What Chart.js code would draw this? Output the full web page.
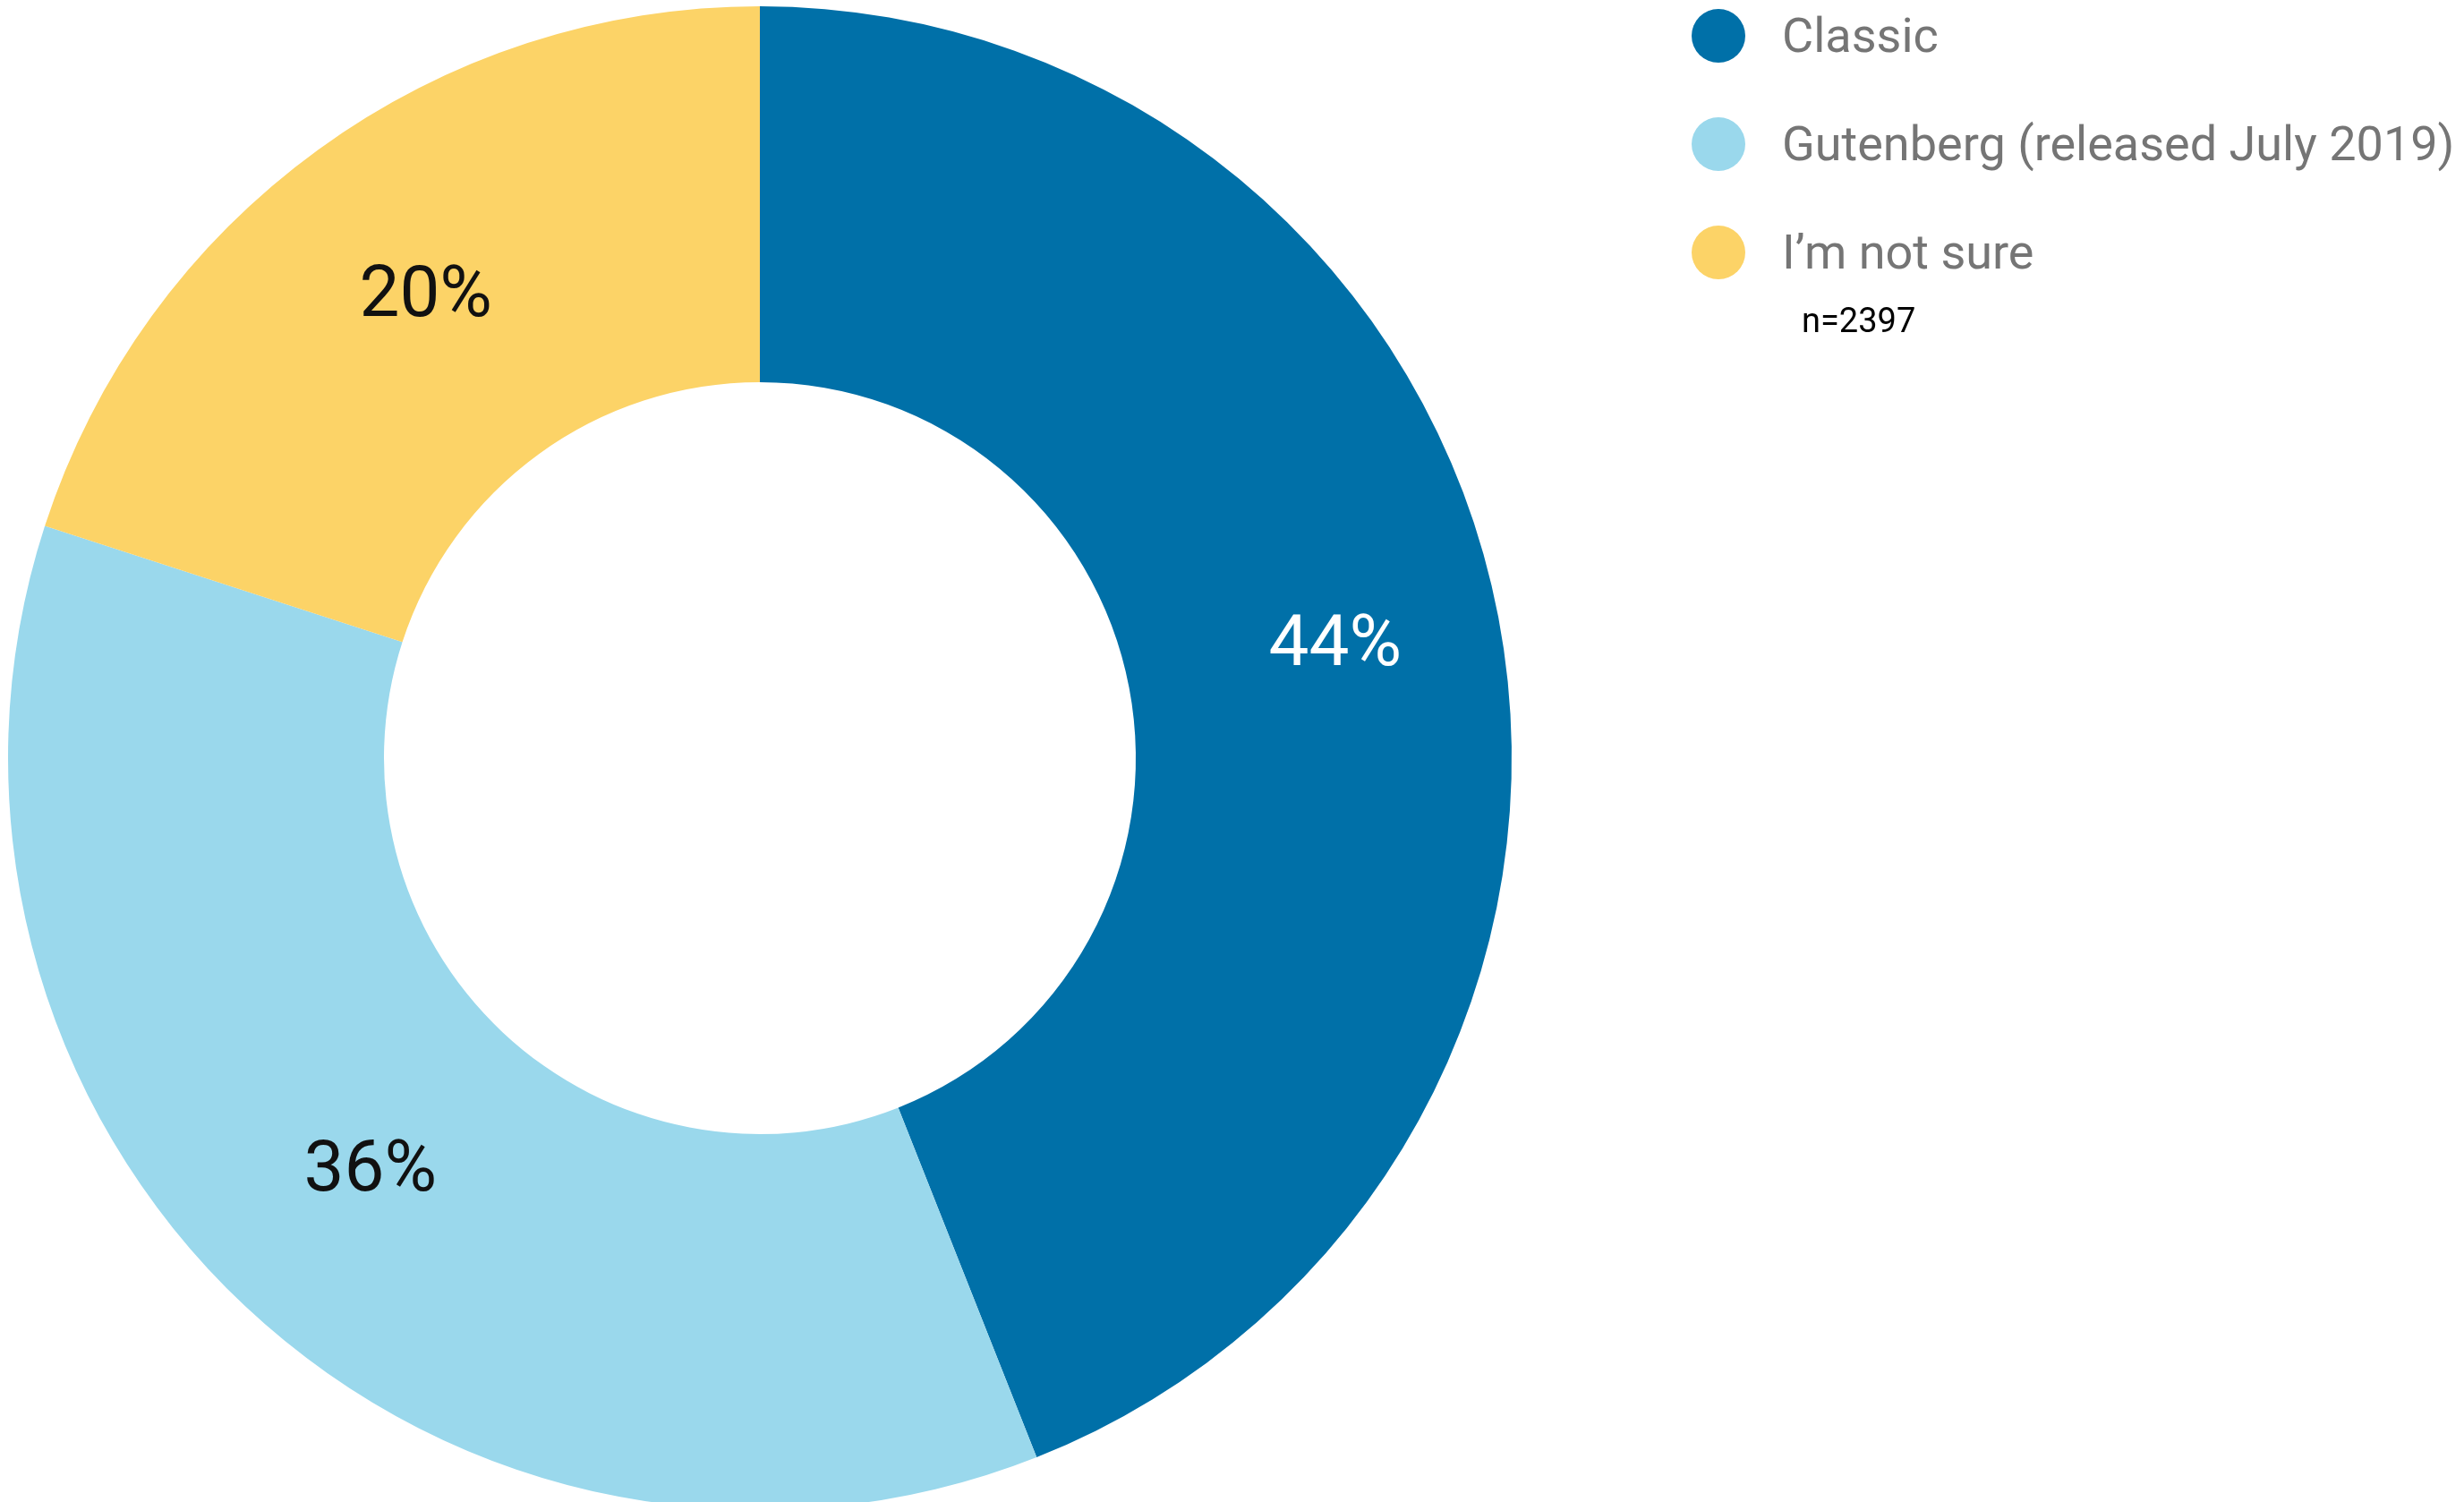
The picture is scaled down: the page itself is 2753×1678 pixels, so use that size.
<!DOCTYPE html>
<html>
<head>
<meta charset="utf-8">
<title>Editor preference</title>
<script src="https://cdn.jsdelivr.net/npm/chart.js@4/dist/chart.umd.min.js"></script>
<style>
  html, body { margin: 0; padding: 0; background: #ffffff; overflow: hidden; }
  canvas { display: block; }
</style>
</head>
<body>
<canvas id="chart" width="2753" height="1688"></canvas>
<script>
// Survey answers
const categories = ['Classic', 'Gutenberg (released July 2019)', 'I\u2019m not sure'];
const shares = [44, 36, 20];
const sampleNote = 'n=2397';

const sliceColors = ['#0070A8', '#9AD8EC', '#FCD367'];
const labelColors = ['#ffffff', '#111111', '#111111'];
// small nudges for the percentage labels, in pixels
const labelNudgeX = [24, -4, -3];
const labelNudgeY = [-6, 4, -4];

// Percentage label at the centre of each ring segment
const sliceLabels = {
  id: 'sliceLabels',
  afterDatasetsDraw(chart) {
    const { ctx } = chart;
    const meta = chart.getDatasetMeta(0);
    ctx.save();
    ctx.font = '400 80px Roboto';
    ctx.textAlign = 'center';
    ctx.textBaseline = 'middle';
    meta.data.forEach((arc, i) => {
      const p = arc.tooltipPosition();
      ctx.fillStyle = labelColors[i];
      ctx.fillText(shares[i] + '%', p.x + labelNudgeX[i], p.y + labelNudgeY[i]);
    });
    ctx.restore();
  }
};

// Legend column with round markers, plus the sample size note
const sideLegend = {
  id: 'sideLegend',
  afterDraw(chart) {
    const { ctx } = chart;
    const markerX = 1920, textX = 1991, firstY = 40, rowGap = 121, markerR = 30;
    ctx.save();
    ctx.textAlign = 'left';
    ctx.textBaseline = 'middle';
    ctx.font = '400 54px Roboto';
    categories.forEach((name, i) => {
      const y = firstY + i * rowGap;
      ctx.beginPath();
      ctx.arc(markerX, y, markerR, 0, Math.PI * 2);
      ctx.fillStyle = sliceColors[i];
      ctx.fill();
      ctx.fillStyle = '#757575';
      ctx.fillText(name, textX, y + 4);
    });
    ctx.font = '400 38px Roboto';
    ctx.fillStyle = '#000000';
    ctx.fillText(sampleNote, 2013, 361);
    ctx.restore();
  }
};

new Chart(document.getElementById('chart'), {
  type: 'doughnut',
  data: {
    labels: categories,
    datasets: [{
      data: shares,
      backgroundColor: sliceColors,
      borderWidth: 0,
      hoverOffset: 0
    }]
  },
  options: {
    responsive: false,
    animation: false,
    devicePixelRatio: 1,
    cutout: '50%',
    layout: { padding: { left: 9, top: 7, right: 1064, bottom: 1 } },
    plugins: {
      legend: { display: false },
      tooltip: { enabled: false }
    }
  },
  plugins: [sliceLabels, sideLegend]
});
</script>
</body>
</html>
